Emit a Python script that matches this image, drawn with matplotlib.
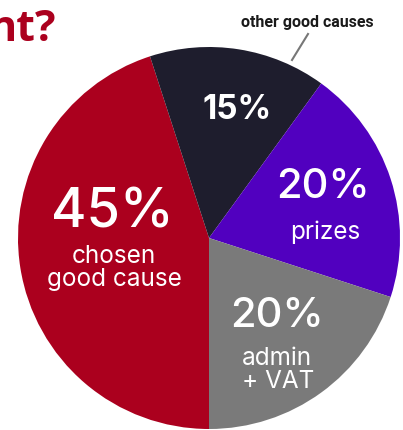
import matplotlib.pyplot as plt

plt.rcParams['font.family'] = ['Inter', 'DejaVu Sans']

shares = [45, 15, 20, 20]
pct_labels = ['45%', '15%', '20%', '20%']
names = ['chosen\ngood cause', '', 'prizes', 'admin\n+ VAT']
colors = ['#AB001E', '#1E1D2D', '#5100BF', '#7A7A7A']

W, H = 403, 430
fig = plt.figure(figsize=(W / 100, H / 100), dpi=100)
ax = fig.add_axes([0, 0, 1, 1])

cx, cy, r = 209, H - 238, 191
ax.pie(shares, colors=colors, startangle=270, counterclock=False,
       center=(cx, cy), radius=r, frame=True,
       wedgeprops=dict(linewidth=0, antialiased=True))
ax.set_xlim(0, W)
ax.set_ylim(0, H)
ax.set_aspect('equal')
ax.axis('off')

# title fragment cut off on the left
ax.text(56, H - 41, 'nt?', ha='right', va='baseline', fontsize=31,
        fontweight='bold', color='#AB001E', family=['Open Sans', 'DejaVu Sans'])

# callout for the small slice
ax.text(307, H - 22, 'other good causes', ha='center', va='center',
        fontsize=11.5, fontweight='bold', color='#1a1a1a',
        family=['Roboto', 'DejaVu Sans'])
ax.plot([308, 292], [H - 34, H - 60], color='#777777', lw=1.5)

# percentages
ax.text(112, H - 213, pct_labels[0], ha='center', va='center', fontsize=39,
        fontweight='medium', color='white')
ax.text(237, H - 110, pct_labels[1], ha='center', va='center', fontsize=24,
        fontweight='bold', color='white')
ax.text(323, H - 187, pct_labels[2], ha='center', va='center', fontsize=30,
        fontweight='medium', color='white')
ax.text(277, H - 316, pct_labels[3], ha='center', va='center', fontsize=30,
        fontweight='medium', color='white')

# names
ax.text(114, H - 268, names[0], ha='center', va='center', fontsize=17.5,
        color='white', linespacing=1.0)
ax.text(325, H - 232, names[2], ha='center', va='center', fontsize=17.5,
        color='white')
ax.text(242, H - 370, names[3], ha='left', va='center', fontsize=17.5,
        color='white', linespacing=1.0)

fig.savefig('out.png', dpi=100, facecolor='white')
